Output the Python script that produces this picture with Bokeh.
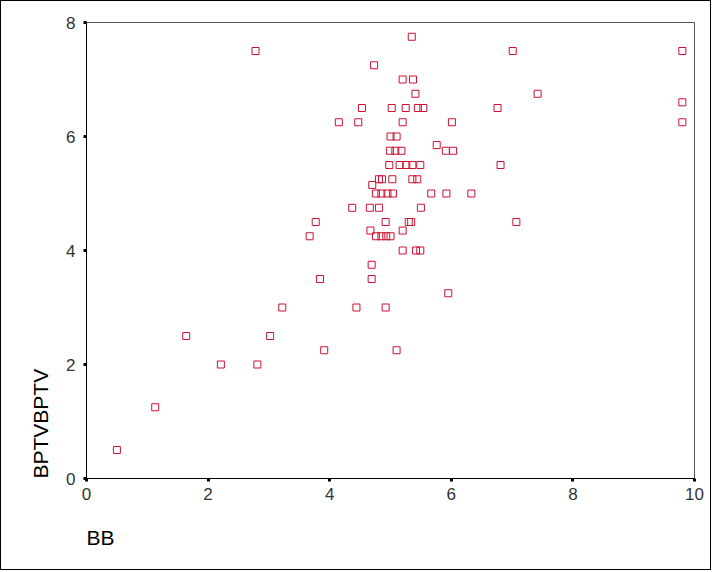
from bokeh.plotting import figure
from bokeh.models import Range1d, FixedTicker, ColumnDataSource, Title
from bokeh.embed import file_html
from bokeh.resources import INLINE

# Data (BB vs BPTVBPTV)
bb = [
    0.50, 1.13, 1.64, 2.21, 2.81, 3.02, 3.22, 3.91, 4.44, 4.92, 5.10, 5.95,
    2.78, 3.67, 3.77, 3.84, 4.69, 4.69,
    4.15, 4.47, 5.20, 6.01,
    4.53, 5.02, 5.25, 5.45, 5.54, 6.76,
    4.73, 5.20, 5.37, 5.41, 7.42, 5.35, 7.01, 9.80, 9.80, 9.80,
    5.00, 5.10, 5.76,
    4.99, 5.08, 5.18, 5.91, 6.03,
    4.98, 5.15, 5.26, 5.36, 5.49, 6.81,
    4.81, 4.86, 5.03, 5.36, 5.44, 4.70,
    4.76, 4.85, 4.95, 5.04, 5.67, 5.92, 6.33,
    4.37, 4.66, 4.81, 5.50,
    4.92, 5.30, 5.34, 7.07,
    4.67, 5.20,
    4.76, 4.85, 4.93, 5.00,
    5.20, 5.42, 5.49,
]
bptv = [
    0.50, 1.25, 2.50, 2.00, 2.00, 2.50, 3.00, 2.25, 3.00, 3.00, 2.25, 3.25,
    7.50, 4.25, 4.50, 3.50, 3.50, 3.75,
    6.25, 6.25, 6.25, 6.25,
    6.50, 6.50, 6.50, 6.50, 6.50, 6.50,
    7.25, 7.00, 7.00, 6.75, 6.75, 7.75, 7.50, 7.50, 6.60, 6.25,
    6.00, 6.00, 5.85,
    5.75, 5.75, 5.75, 5.75, 5.75,
    5.50, 5.50, 5.50, 5.50, 5.50, 5.50,
    5.25, 5.25, 5.25, 5.25, 5.25, 5.15,
    5.00, 5.00, 5.00, 5.00, 5.00, 5.00, 5.00,
    4.75, 4.75, 4.75, 4.75,
    4.50, 4.50, 4.50, 4.50,
    4.35, 4.35,
    4.25, 4.25, 4.25, 4.25,
    4.00, 4.00, 4.00,
]
x_ticks = [0, 2, 4, 6, 8, 10]
y_ticks = [0, 2, 4, 6, 8]
x_title = "BB"
y_title = "BPTVBPTV"

src = ColumnDataSource(dict(x=bb, y=bptv))

p = figure(width=711, height=570, output_backend="svg", toolbar_location=None,
           x_range=Range1d(0, 10), y_range=Range1d(0, 8),
           min_border_left=85, min_border_right=18,
           min_border_top=21, min_border_bottom=93)
p.styles = {"border": "1px solid #000"}
p.background_fill_color = "white"
p.border_fill_color = "white"
p.outline_line_color = "#555555"
p.outline_line_width = 1
p.xgrid.visible = False
p.ygrid.visible = False

tick_font = "Liberation Sans Narrow, Liberation Sans, Arial"
for ax, ticks in ((p.xaxis[0], x_ticks), (p.yaxis[0], y_ticks)):
    ax.ticker = FixedTicker(ticks=ticks)
    ax.minor_tick_line_color = None
    ax.axis_line_color = "#000000"
    ax.axis_line_width = 1
    ax.major_tick_line_color = "#000000"
    ax.major_tick_line_width = 3
    ax.major_tick_in = 0
    ax.major_tick_out = 3
    ax.major_label_text_font = tick_font
    ax.major_label_text_font_size = "17px"
    ax.major_label_text_color = "#333333"
p.xaxis.major_label_standoff = 6
p.yaxis.major_label_standoff = 8

p.scatter("x", "y", source=src, marker="square", size=7,
          fill_color=None, line_color="#cc1133", line_width=1)

p.add_layout(Title(text=y_title, align="left", text_font="Liberation Sans",
                   text_font_size="21px", text_font_style="normal",
                   text_color="#000", standoff=24), "left")
p.add_layout(Title(text=x_title, align="left", text_font="Liberation Sans",
                   text_font_size="21px", text_font_style="normal",
                   text_color="#000", standoff=43), "below")

open("out.html", "w").write(file_html(p, INLINE))
